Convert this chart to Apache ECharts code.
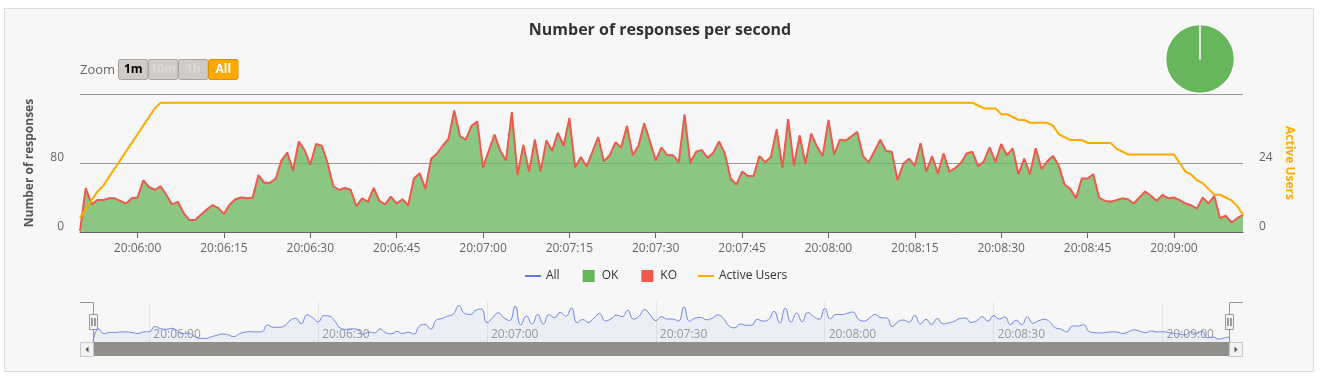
<!DOCTYPE html>
<html><head><meta charset="utf-8">
<script src="https://cdn.jsdelivr.net/npm/echarts@6/dist/echarts.min.js"></script>
<style>
html,body{margin:0;padding:0;background:#fff;width:1320px;height:381px;overflow:hidden}
#panel{position:absolute;left:4px;top:8px;width:1308px;height:362px;background:#f7f7f7;border:1px solid #dcdcdc}
#chart{position:absolute;left:0;top:0;width:1320px;height:381px}
</style></head><body>
<div id="panel"></div><div id="chart"></div>
<script>
// ---- data ----
const startTime = '20:05:50';          // first sample, one sample per second
const okValues = [
  1,51,32,37,37,39,39,36,33,39,
  40,60,52,49,53,43,32,35,22,14,
  14,20,26,31,28,21,32,38,40,39,
  40,66,57,57,62,83,92,71,105,95,
  78,102,100,80,53,49,51,49,30,39,
  35,51,36,32,41,33,38,31,62,68,
  50,85,91,100,108,141,111,107,123,128,
  75,94,113,94,83,139,66,101,70,107,
  70,106,94,115,100,132,75,87,76,93,
  110,82,89,104,98,123,89,100,126,105,
  83,98,89,89,81,136,80,93,95,86,
  92,105,91,62,55,70,65,65,88,81,
  87,119,74,131,77,112,79,114,99,88,
  130,90,107,106,111,116,88,81,94,107,
  94,93,60,79,85,77,103,70,88,68,
  91,70,74,80,91,93,76,82,98,81,
  102,89,97,67,85,67,97,73,82,88,
  77,55,50,39,62,62,67,40,36,35,
  37,39,38,33,40,47,42,36,43,39,
  40,37,33,31,27,40,33,42,16,19,
  11,16,20
];
const koValues = [
  0,0,0,0,0,0,0,0,0,0,0,0,0,0,0,0,0,0,0,0,
  0,0,0,0,0,0,0,0,0,0,0,0,0,0,0,0,0,0,0,0,
  0,0,0,0,0,0,0,0,0,0,0,0,0,0,0,0,0,0,0,0,
  0,0,0,0,0,0,0,0,0,0,0,0,0,0,0,0,0,0,0,0,
  0,0,0,0,0,0,0,0,0,0,0,0,0,0,0,0,0,0,0,0,
  0,0,0,0,0,0,0,0,0,0,0,0,0,0,0,0,0,0,0,0,
  0,0,0,0,0,0,0,0,0,0,0,0,0,0,0,0,0,0,0,0,
  0,0,0,0,0,0,0,0,0,0,0,0,0,0,0,0,0,0,0,0,
  0,0,0,0,0,0,0,0,0,0,0,0,0,0,0,0,0,0,0,0,
  0,0,0,0,0,0,0,0,0,0,0,0,0,0,0,0,0,0,0,0,
  0,0,0
];
const activeUsers = [
  5,8,11,14,16,19,22,25,28,31,
  34,37,40,43,45,45,45,45,45,45,
  45,45,45,45,45,45,45,45,45,45,
  45,45,45,45,45,45,45,45,45,45,
  45,45,45,45,45,45,45,45,45,45,
  45,45,45,45,45,45,45,45,45,45,
  45,45,45,45,45,45,45,45,45,45,
  45,45,45,45,45,45,45,45,45,45,
  45,45,45,45,45,45,45,45,45,45,
  45,45,45,45,45,45,45,45,45,45,
  45,45,45,45,45,45,45,45,45,45,
  45,45,45,45,45,45,45,45,45,45,
  45,45,45,45,45,45,45,45,45,45,
  45,45,45,45,45,45,45,45,45,45,
  45,45,45,45,45,45,45,45,45,45,
  45,45,45,45,45,45,44,43,43,43,
  41,41,40,39,39,38,38,38,38,37,
  34,33,32,32,32,31,31,31,31,31,
  29,28,27,27,27,27,27,27,27,27,
  27,24,21,20,18,17,15,13,13,12,
  11,9,6
];
const leftTicks = [0, 80, 160];
const rightTicks = [0, 24, 48];
const labelStepSec = 15;
const navLabelStepSec = 30;
const zoomButtons = ['1m', '10m', '1h', 'All'];

// ---- derived ----
function toSec(s){const p=s.split(':').map(Number);return p[0]*3600+p[1]*60+p[2];}
function fmt(sec){const h=Math.floor(sec/3600),m=Math.floor(sec%3600/60),s=sec%60;
  return [h,m,s].map(v=>String(v).padStart(2,'0')).join(':');}
const t0 = toSec(startTime);
const categories = okValues.map((_, i) => fmt(t0 + i));
const allValues = okValues.map((v, i) => v + koValues[i]);
const okTotal = okValues.reduce((a,b)=>a+b,0);
const koTotal = koValues.reduce((a,b)=>a+b,0);

const FONT = '"Open Sans", "DejaVu Sans", sans-serif';
const every = step => (idx, val) => toSec(val) % step === 0;

// ---- chrome (buttons, navigator handles, scrollbar) ----
const graphics = [];
graphics.push({type:'text', x:80, y:70, style:{text:'Zoom', fill:'#666', fontSize:13, fontFamily:FONT, verticalAlign:'middle'}});
const btnX = [118.5, 148.5, 178.5, 208.5];
zoomButtons.forEach((b, i) => {
  const active = b === 'All';
  graphics.push({type:'rect', shape:{x:btnX[i], y:59.5, width:29.5, height:20, r:2},
    style:{fill: active ? '#FFA900' : '#cfcbc8', stroke: active ? '#d99000' : '#a8a4a2', lineWidth:1}});
  graphics.push({type:'text', x:btnX[i]+14.75, y:69.5, style:{text:b,
    fill: active ? '#fff' : (b === '1m' ? '#000' : '#dedad7'), fontSize:12, fontWeight:'bold', fontFamily:FONT,
    align:'center', verticalAlign:'middle'}});
});
// navigator outline
graphics.push({type:'polyline', shape:{points:[[80,302.5],[93.5,302.5],[93.5,342]]}, style:{stroke:'#999', fill:null, lineWidth:1}});
graphics.push({type:'polyline', shape:{points:[[1229.5,342],[1229.5,302.5],[1243,302.5]]}, style:{stroke:'#999', fill:null, lineWidth:1}});
// scrollbar
graphics.push({type:'rect', shape:{x:93, y:342, width:1137, height:14}, style:{fill:'#908f8b'}});
[[80.5,'l'],[1229.5,'r']].forEach(([x,d]) => {
  graphics.push({type:'rect', shape:{x:x, y:342.5, width:13, height:14}, style:{fill:'#f2f2f2', stroke:'#c8c8c8', lineWidth:1}});
  const cx = x + 6.5, cy = 349.5;
  graphics.push({type:'polygon', shape:{points: d==='l' ? [[cx+1.5,cy-3],[cx+1.5,cy+3],[cx-1.5,cy]] : [[cx-1.5,cy-3],[cx-1.5,cy+3],[cx+1.5,cy]]}, style:{fill:'#555'}});
});
// handles
[93.5, 1229.5].forEach(x => {
  graphics.push({type:'rect', shape:{x:x-4, y:314.5, width:8, height:15}, style:{fill:'#f2f2f2', stroke:'#999', lineWidth:1}});
  graphics.push({type:'line', shape:{x1:x-1.5, y1:318, x2:x-1.5, y2:326}, style:{stroke:'#444', lineWidth:1}});
  graphics.push({type:'line', shape:{x1:x+1.5, y1:318, x2:x+1.5, y2:326}, style:{stroke:'#444', lineWidth:1}});
});

const linePath = 'path://M0,0M16,12M0,5L16,5L16,7L0,7Z';
const squarePath = 'path://M0,0M16,12M2,0L14,0L14,12L2,12Z';

const chart = echarts.init(document.getElementById('chart'), null, {renderer:'canvas'});
chart.setOption({
  animation: false,
  backgroundColor: 'transparent',
  textStyle: {fontFamily: FONT},
  title: {text:'Number of responses per second', left:'center', top:17,
    textStyle:{fontSize:16, fontWeight:'bold', color:'#333', fontFamily:FONT}},
  legend: {left:520, top:265, itemWidth:16, itemHeight:12, itemGap:21,
    itemStyle:{borderWidth:0},
    textStyle:{fontSize:12, color:'#333', fontFamily:FONT},
    data:[{name:'All', icon:linePath},{name:'OK', icon:squarePath},{name:'KO', icon:squarePath},{name:'Active Users', icon:linePath}]},
  grid: [
    {left:80, right:77, top:94, height:138, outerBoundsMode:'none'},
    {left:93, right:90, top:302, height:40, outerBoundsMode:'none'}
  ],
  xAxis: [
    {type:'category', gridIndex:0, data:categories, boundaryGap:false,
     axisLine:{lineStyle:{color:'#666', width:1}},
     axisTick:{interval: every(labelStepSec), length:6, lineStyle:{color:'#666'}},
     axisLabel:{interval: every(labelStepSec), color:'#666', fontSize:12, margin:11, fontFamily:FONT},
     splitLine:{show:false}},
    {type:'category', gridIndex:1, data:categories, boundaryGap:false,
     axisLine:{show:false}, axisTick:{show:false},
     axisLabel:{interval: every(navLabelStepSec), inside:true, align:'left', padding:[0,0,0,4],
       color:'#999', fontSize:12, margin:1, fontFamily:FONT},
     splitLine:{show:true, interval: every(navLabelStepSec), lineStyle:{color:'#e6e6e6', width:1}}}
  ],
  yAxis: [
    {type:'value', gridIndex:0, min:leftTicks[0], max:leftTicks[2], interval:leftTicks[1]-leftTicks[0],
     axisLine:{show:false}, axisTick:{show:false},
     axisLabel:{showMaxLabel:false, color:'#666', fontSize:12, margin:16, verticalAlign:'bottom', lineHeight:10, fontFamily:FONT},
     splitLine:{lineStyle:{color:'#999', width:1}},
     name:'Number of responses', nameLocation:'middle', nameRotate:90, nameGap:44,
     nameTextStyle:{color:'#555', fontSize:12, fontWeight:'bold', fontFamily:FONT}},
    {type:'value', gridIndex:0, position:'right', min:rightTicks[0], max:rightTicks[2], interval:rightTicks[1]-rightTicks[0],
     axisLine:{show:false}, axisTick:{show:false},
     axisLabel:{showMaxLabel:false, color:'#666', fontSize:12, margin:16, verticalAlign:'bottom', lineHeight:10, fontFamily:FONT},
     splitLine:{show:false},
     name:'Active Users', nameLocation:'middle', nameRotate:-90, nameGap:38,
     nameTextStyle:{color:'#FFA900', fontSize:12, fontWeight:'bold', fontFamily:FONT}},
    {type:'value', gridIndex:1, min:0, max:155, show:false, splitLine:{show:false}}
  ],
  series: [
    {name:'All', type:'line', xAxisIndex:1, yAxisIndex:2, data:allValues, smooth:0.5, symbol:'none',
     color:'#5E7BE2', lineStyle:{color:'#6a86e4', width:1}, areaStyle:{color:'#5E7BE2', opacity:0.07}, silent:true},
    {name:'OK', type:'line', xAxisIndex:0, yAxisIndex:0, stack:'resp', data:okValues, symbol:'none',
     color:'#68b65c', lineStyle:{color:'#68b65c', width:1}, areaStyle:{color:'#68b65c', opacity:0.75}},
    {name:'KO', type:'line', xAxisIndex:0, yAxisIndex:0, stack:'resp', data:koValues, symbol:'none',
     color:'#f15b4f', lineStyle:{color:'#ef5a4c', width:2}, areaStyle:{color:'#f15b4f', opacity:0.75}},
    {name:'Active Users', type:'line', xAxisIndex:0, yAxisIndex:1, data:activeUsers, symbol:'none',
     color:'#FFA900', lineStyle:{color:'#FFA900', width:2}},
    {name:'Distribution', type:'pie', center:[1200,59], radius:34.5, startAngle:90, clockwise:true,
     label:{show:false}, labelLine:{show:false}, silent:true,
     itemStyle:{borderColor:'#ffffff', borderWidth:1.5},
     data:[{name:'OK', value:okTotal, itemStyle:{color:'#68b65c'}},
           {name:'KO', value:koTotal, itemStyle:{color:'#f15b4f'}}]}
  ],
  graphic: graphics
});
</script>
</body></html>
